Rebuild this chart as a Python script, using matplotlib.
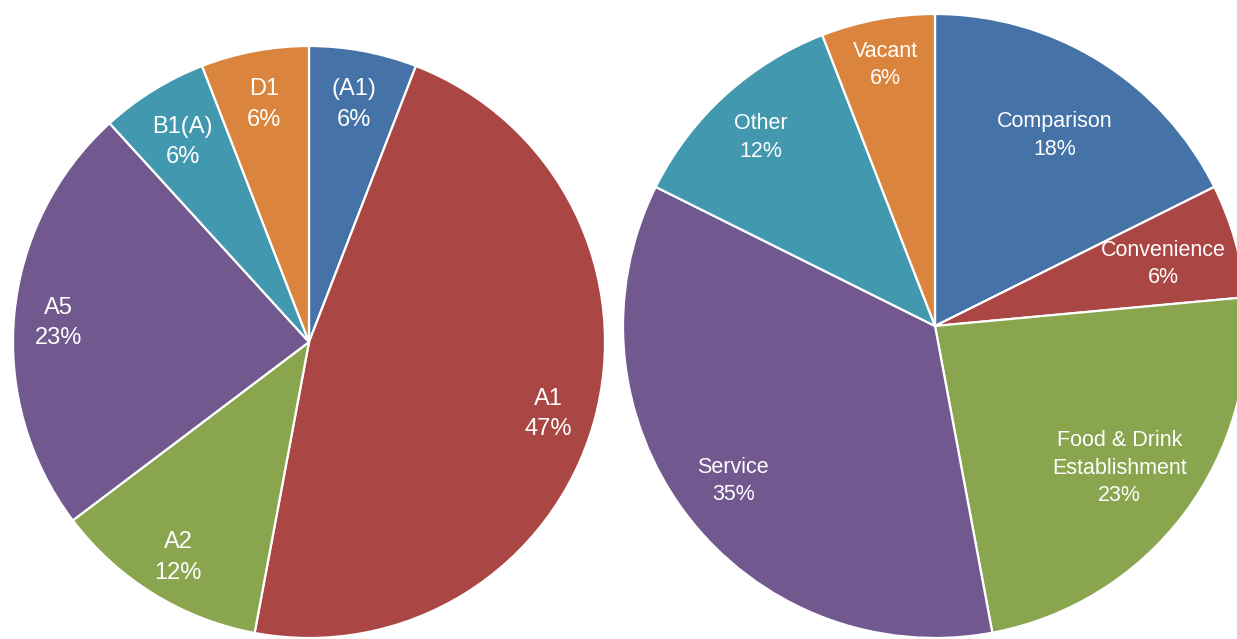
import matplotlib
matplotlib.use("Agg")
import matplotlib.pyplot as plt
import numpy as np

plt.rcParams['font.family'] = ['Liberation Sans', 'DejaVu Sans']

# Left pie data (use classes)
left_labels = ["(A1)", "A1", "A2", "A5", "B1(A)", "D1"]
left_values = [1, 8, 2, 4, 1, 1]
left_pct = ["6%", "47%", "12%", "23%", "6%", "6%"]

# Right pie data (retail categories)
right_labels = ["Comparison", "Convenience", "Food & Drink\nEstablishment", "Service", "Other", "Vacant"]
right_values = [3, 1, 4, 6, 2, 1]
right_pct = ["18%", "6%", "23%", "35%", "12%", "6%"]

colors = ["#4572A7", "#AA4643", "#89A54E", "#71588F", "#4198AF", "#DB843D"]

W, H = 1237, 639
fig = plt.figure(figsize=(W / 100, H / 100), dpi=100)
ax = fig.add_axes([0, 0, 1, 1])
ax.set_xlim(0, W)
ax.set_ylim(0, H)
ax.set_aspect('equal')
ax.axis('off')


def draw_pie(values, labels, pcts, center, radius, dists, fontsize, linespacing, yshift):
    wedges, _ = ax.pie(values, colors=colors, startangle=90, counterclock=False,
                       center=center, radius=radius,
                       wedgeprops=dict(edgecolor='white', linewidth=1.6))
    for w, lab, pc, d in zip(wedges, labels, pcts, dists):
        ang = np.deg2rad((w.theta1 + w.theta2) / 2)
        x = center[0] + d * radius * np.cos(ang)
        y = center[1] + d * radius * np.sin(ang) - yshift
        ax.text(x, y, lab + "\n" + pc, ha='center', va='center', color='white',
                fontsize=fontsize, linespacing=linespacing)


draw_pie(left_values, left_labels, left_pct, (309, H - 342), 296,
         [0.83, 0.84, 0.84, 0.85, 0.81, 0.83], 17, 1.5, 4)
draw_pie(right_values, right_labels, right_pct, (935, H - 326), 312,
         [0.73, 0.76, 0.74, 0.81, 0.83, 0.86], 15.5, 1.4, 3)

ax.set_xlim(0, W)
ax.set_ylim(0, H)
fig.savefig("out.png", dpi=100)
